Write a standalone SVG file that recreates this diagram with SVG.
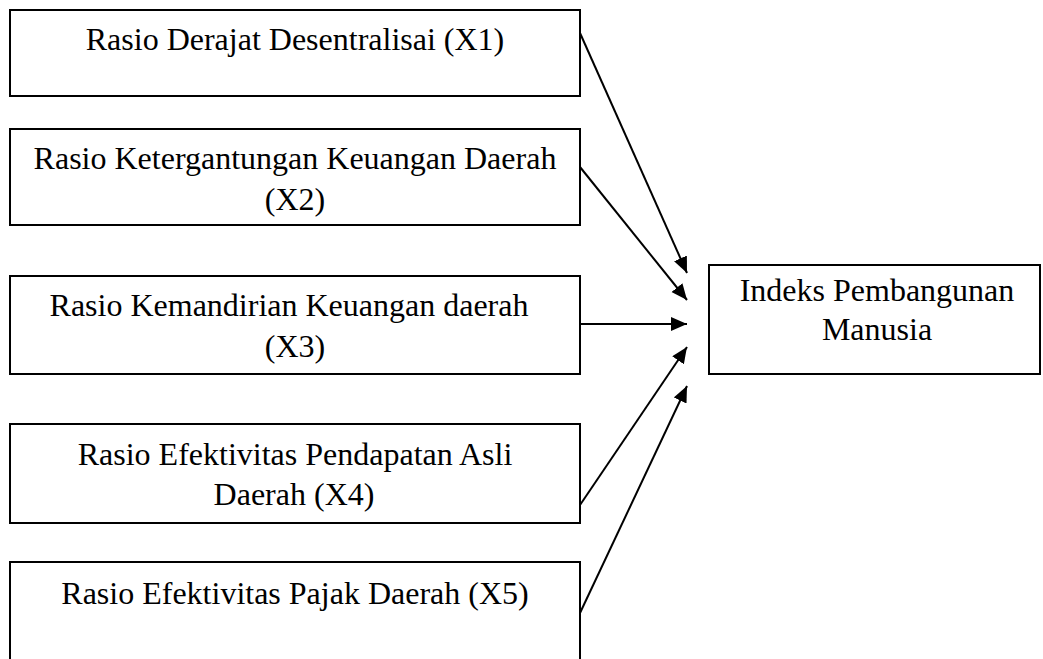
<svg xmlns="http://www.w3.org/2000/svg" width="1043" height="659" viewBox="0 0 1043 659">
<style>
.box{fill:#fff;stroke:#000;stroke-width:2}
.t{font-family:"Liberation Serif","Times New Roman",serif;font-size:32px;fill:#000;text-anchor:middle}
.c{stroke:#000;stroke-width:2;fill:none;marker-end:url(#ah)}
</style>
<defs>
<marker id="ah" markerUnits="userSpaceOnUse" markerWidth="18" markerHeight="16" refX="16" refY="7" orient="auto" viewBox="0 0 18 16">
<path d="M0,0 L16,7 L0,14 z" fill="#000"/>
</marker>
</defs>
<rect width="1043" height="659" fill="#fff"/>
<g id="x1">
<rect class="box" x="10" y="10" width="570" height="86"/>
<text class="t" x="295" y="50">Rasio Derajat Desentralisai (X1)</text>
</g>
<g id="x2">
<rect class="box" x="10" y="129" width="570" height="96"/>
<text class="t" x="295" y="169">Rasio Ketergantungan Keuangan Daerah</text>
<text class="t" x="295" y="210">(X2)</text>
</g>
<g id="x3">
<rect class="box" x="10" y="276" width="570" height="98"/>
<text class="t" x="289" y="316">Rasio Kemandirian Keuangan daerah</text>
<text class="t" x="295" y="357">(X3)</text>
</g>
<g id="x4">
<rect class="box" x="10" y="424" width="570" height="99"/>
<text class="t" x="295" y="465">Rasio Efektivitas Pendapatan Asli</text>
<text class="t" x="294" y="505">Daerah (X4)</text>
</g>
<g id="x5">
<rect class="box" x="10" y="562" width="570" height="110"/>
<text class="t" x="295" y="604">Rasio Efektivitas Pajak Daerah (X5)</text>
</g>
<g id="y">
<rect class="box" x="709" y="265" width="331" height="109"/>
<text class="t" x="877" y="301">Indeks Pembangunan</text>
<text class="t" x="877" y="340">Manusia</text>
</g>
<g id="connectors">
<line class="c" x1="580" y1="33" x2="687" y2="273"/>
<line class="c" x1="580" y1="167" x2="687" y2="300"/>
<line class="c" x1="580" y1="324" x2="687" y2="324"/>
<line class="c" x1="580" y1="505" x2="687" y2="347"/>
<line class="c" x1="580" y1="613" x2="687" y2="386"/>
</g>
</svg>
